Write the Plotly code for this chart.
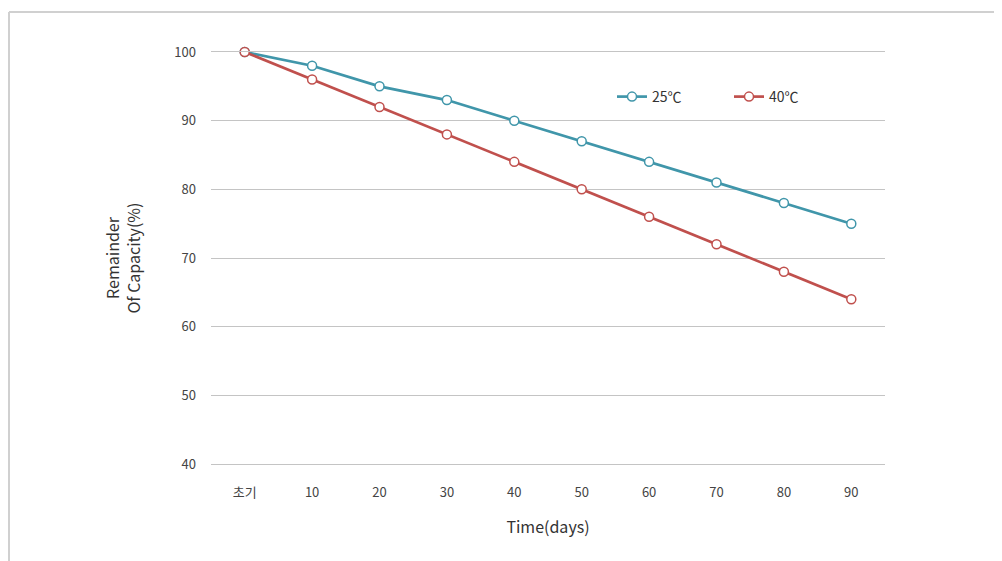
import plotly.graph_objects as go

days = ['초기', '10', '20', '30', '40', '50', '60', '70', '80', '90']
cap_25 = [100, 98, 95, 93, 90, 87, 84, 81, 78, 75]
cap_40 = [100, 96, 92, 88, 84, 80, 76, 72, 68, 64]

TEAL = '#4096aa'
RED = '#c0504d'
GRID = '#c4c4c4'
FONT = 'Noto Sans CJK KR, Open Sans, sans-serif'

# page body has an 8px margin, so the figure is offset by 8px
OFF = 8
W, H = 1002, 561
ML, MR, MT, MB = 211 - OFF, 117 + OFF, 52 - OFF, 97 + OFF
pw, ph = W - ML - MR, H - MT - MB

fig = go.Figure()
for name, vals, col in [('25℃', cap_25, TEAL), ('40℃', cap_40, RED)]:
    fig.add_trace(go.Scatter(
        x=days, y=vals, name=name, mode='lines+markers',
        line=dict(color=col, width=2.7),
        marker=dict(symbol='circle', size=9, color='white',
                    line=dict(color=col, width=1.5)),
        cliponaxis=False,
    ))

# outer frame (top and left edges visible in the reference)
def px_x(p):
    return (p - OFF - ML) / pw

def px_y(p):
    return (H - MB - (p - OFF)) / ph

frame = dict(type='line', xref='paper', yref='paper',
             line=dict(color='#d0d0d0', width=2))
fig.add_shape(x0=px_x(9), x1=px_x(W + 20), y0=px_y(12), y1=px_y(12), **frame)
fig.add_shape(x0=px_x(9), x1=px_x(9), y0=px_y(12), y1=px_y(H + 20), **frame)

fig.update_layout(
    width=W, height=H,
    margin=dict(l=ML, r=MR, t=MT, b=MB),
    paper_bgcolor='white', plot_bgcolor='white',
    font=dict(family=FONT, color='#333333', size=13),
    showlegend=True,
    legend=dict(orientation='h', x=px_x(612), y=px_y(97), xanchor='left', yanchor='middle',
                font=dict(size=14, color='#333333'), bgcolor='rgba(0,0,0,0)',
                itemwidth=30, entrywidth=72),
)
fig.update_xaxes(
    type='category', range=[-0.5, 9.5], showgrid=False,
    showline=True, mirror=True, linecolor=GRID, linewidth=1.2,
    ticks='', ticklabelstandoff=16, tickfont=dict(size=13, color='#444444'),
    title=dict(text='Time(days)', font=dict(size=16, color='#333333'), standoff=22),
)
fig.update_yaxes(
    range=[40, 100], dtick=10, showgrid=True, gridcolor=GRID, gridwidth=1.2,
    zeroline=False, showline=False, ticks='', ticklabelstandoff=14,
    tickfont=dict(size=13, color='#444444'),
    title=dict(text='Remainder<br>Of Capacity(%)', font=dict(size=16, color='#333333'),
               standoff=29),
)

fig.write_html('out.html')
